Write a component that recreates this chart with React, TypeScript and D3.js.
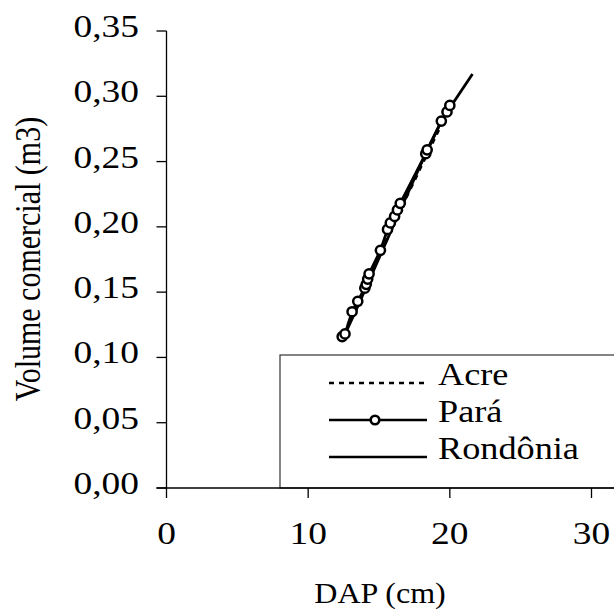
import * as d3 from "d3";

// DAP (cm) x commercial volume (m3)
const paraDap = [12.4, 12.6, 13.1, 13.5, 14.0, 14.1, 14.2, 14.3, 15.1, 15.6, 15.8, 16.1, 16.3, 16.5, 18.3, 18.4, 19.4, 19.8, 20.0];
const paraVol = [0.116, 0.118, 0.135, 0.143, 0.153, 0.156, 0.160, 0.164, 0.182, 0.198, 0.203, 0.208, 0.213, 0.218, 0.256, 0.259, 0.281, 0.288, 0.293];

const rondoniaDap = [12.4, 13.5, 15.0, 16.5, 18.0, 19.5, 21.6];
const rondoniaVol = [0.113, 0.139, 0.176, 0.213, 0.249, 0.283, 0.317];

const acreDap = [12.8, 14.5, 16.5, 18.5, 20.2];
const acreVol = [0.125, 0.165, 0.213, 0.258, 0.296];

const xTicks = [0, 10, 20, 30];
const yTicks = [0, 0.05, 0.1, 0.15, 0.2, 0.25, 0.3, 0.35];
const legendLabels = ["Acre", "Pará", "Rondônia"];

const W = 614;
const H = 609;
const FONT = "'Liberation Serif', 'Times New Roman', serif";

// the original figure is stretched sideways, so text is too
const SX = 1.17;

export default function App() {
  const x = d3.scaleLinear().domain([0, 30]).range([166.5, 591.5]);
  const y = d3.scaleLinear().domain([0, 0.35]).range([488, 31]);
  const fmt = (v: number) => d3.format(".2f")(v).replace(".", ",");

  const line = d3
    .line<[number, number]>()
    .x((d) => x(d[0]))
    .y((d) => y(d[1]));

  const para = paraDap.map((d, i) => [d, paraVol[i]] as [number, number]);
  const rond = rondoniaDap.map((d, i) => [d, rondoniaVol[i]] as [number, number]);
  const acre = acreDap.map((d, i) => [d, acreVol[i]] as [number, number]);

  const x0 = x(0);
  const y0 = y(0);

  // legend layout
  const lgX = 280;
  const lgY = 355;
  const rowY = [383, 420, 457];

  return (
    <svg
      width={W}
      height={H}
      style={{ position: "fixed", left: 0, top: 0, background: "#fff" }}
      fontFamily={FONT}
    >
      {/* legend box */}
      <rect x={lgX} y={lgY} width={W - lgX + 10} height={y0 - lgY} fill="#fff" stroke="#333" strokeWidth={1.2} />
      <line x1={329} x2={427} y1={rowY[0]} y2={rowY[0]} stroke="#000" strokeWidth={2.6} strokeDasharray="5,5" />
      <line x1={329} x2={427} y1={rowY[1]} y2={rowY[1]} stroke="#000" strokeWidth={2.6} />
      <circle cx={375} cy={rowY[1]} r={4.3} fill="#fff" stroke="#000" strokeWidth={2.6} />
      <line x1={329} x2={427} y1={rowY[2]} y2={rowY[2]} stroke="#000" strokeWidth={2.6} />
      {legendLabels.map((l, i) => (
        <text
          key={l}
          transform={`translate(438,${rowY[i] + 2}) scale(${SX},1)`}
          fontSize={31}
          fill="#000"
        >
          {l}
        </text>
      ))}

      {/* data */}
      <path d={line(acre) ?? ""} fill="none" stroke="#000" strokeWidth={2.8} strokeDasharray="5,5" />
      <path d={line(rond) ?? ""} fill="none" stroke="#000" strokeWidth={2.8} />
      <path d={line(para) ?? ""} fill="none" stroke="#000" strokeWidth={2.8} />
      {para.map((d, i) => (
        <circle key={i} cx={x(d[0])} cy={y(d[1])} r={4.6} fill="#fff" stroke="#000" strokeWidth={2.5} />
      ))}

      {/* axes */}
      <line x1={x0} x2={x0} y1={y(0.35)} y2={y0} stroke="#000" strokeWidth={1.3} />
      <line x1={x0 - 10} x2={W} y1={y0} y2={y0} stroke="#000" strokeWidth={1.3} />
      {yTicks.map((t) => (
        <g key={t}>
          <line x1={x0 - 10} x2={x0} y1={y(t)} y2={y(t)} stroke="#000" strokeWidth={1.3} />
          <text
            transform={`translate(139,${y(t) + 6}) scale(${SX},1)`}
            textAnchor="end"
            fontSize={32}
            fill="#000"
          >
            {fmt(t)}
          </text>
        </g>
      ))}
      {xTicks.map((t) => (
        <g key={t}>
          <line x1={x(t)} x2={x(t)} y1={y0} y2={y0 + 10} stroke="#000" strokeWidth={1.3} />
          <text
            transform={`translate(${x(t)},544) scale(${SX},1)`}
            textAnchor="middle"
            fontSize={32}
            fill="#000"
          >
            {t}
          </text>
        </g>
      ))}

      <text
        transform={`translate(380,603) scale(1.07,1)`}
        textAnchor="middle"
        fontSize={30}
        fill="#000"
      >
        DAP (cm)
      </text>
      <text
        transform={`translate(40,259) rotate(-90) scale(1,1.22)`}
        textAnchor="middle"
        fontSize={30}
        fill="#000"
      >
        Volume comercial (m3)
      </text>
    </svg>
  );
}
